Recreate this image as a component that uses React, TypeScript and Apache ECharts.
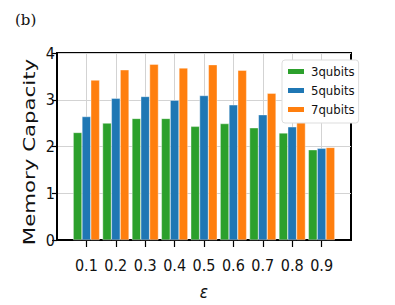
import React, { useEffect, useRef } from "react";
import * as echarts from "echarts";

const epsilons = [0.1, 0.2, 0.3, 0.4, 0.5, 0.6, 0.7, 0.8, 0.9];
const qubits3 = [2.30, 2.50, 2.60, 2.60, 2.43, 2.49, 2.40, 2.29, 1.93];
const qubits5 = [2.64, 3.03, 3.07, 2.99, 3.09, 2.89, 2.68, 2.42, 1.96];
const qubits7 = [3.42, 3.64, 3.76, 3.68, 3.75, 3.63, 3.14, 2.59, 1.98];
const seriesNames = ["3qubits", "5qubits", "7qubits"];
const seriesColors = ["#2ca02c", "#1f77b4", "#ff7f0e"];
const yTicks = [0, 1, 2, 3, 4];

const FONT = "'DejaVu Sans Condensed', 'DejaVu Sans', sans-serif";

export default function App() {
  const ref = useRef<HTMLDivElement>(null);
  useEffect(() => {
    if (!ref.current) return;
    const chart = echarts.init(ref.current, null, { renderer: "svg" });
    const all = [qubits3, qubits5, qubits7];
    chart.setOption({
      animation: false,
      backgroundColor: "#fff",
      grid: {
        left: 57,
        top: 53,
        width: 294,
        height: 196,
        show: true,
        borderColor: "#000",
        borderWidth: 2,
        backgroundColor: "transparent",
      },
      legend: {
        orient: "vertical",
        left: 282,
        top: 60,
        data: seriesNames,
        itemWidth: 18,
        itemHeight: 7,
        itemGap: 6,
        padding: [5, 4, 7, 4],
        backgroundColor: "#fff",
        borderColor: "#dddddd",
        borderWidth: 1,
        borderRadius: 3,
        icon: "rect",
        textStyle: { fontFamily: FONT, fontSize: 13, color: "#111", padding: [0, 0, 0, 1] },
      },
      xAxis: {
        type: "value",
        min: 0,
        max: 1,
        interval: 0.1,
        name: "ε",
        nameLocation: "middle",
        nameGap: 43,
        nameTextStyle: { fontFamily: FONT, fontSize: 17, fontStyle: "italic", color: "#111" },
        axisLine: { show: true, lineStyle: { color: "#000", width: 2 } },
        axisTick: {
          show: true,
          length: 7,
          lineStyle: { color: "#000", width: 1.2 },
          customValues: epsilons,
        },
        axisLabel: {
          fontFamily: FONT,
          fontSize: 16,
          color: "#111",
          margin: 17,
          customValues: epsilons,
          formatter: (v: number) => (v < 0.05 || v > 0.95 ? "" : v.toFixed(1)),
        },
        splitLine: { show: true, lineStyle: { color: "#d3d3d3", width: 1 } },
      },
      yAxis: {
        type: "value",
        min: yTicks[0],
        max: yTicks[yTicks.length - 1],
        interval: 1,
        axisLine: { show: true, lineStyle: { color: "#000", width: 2 } },
        axisTick: { show: true, length: 5, lineStyle: { color: "#000", width: 1.2 } },
        axisLabel: { fontFamily: FONT, fontSize: 16, color: "#111", margin: 2 },
        splitLine: { show: true, lineStyle: { color: "#d3d3d3", width: 1 } },
      },
      graphic: [
        {
          type: "text",
          left: 15,
          top: 12,
          style: { text: "(b)", font: "15px 'DejaVu Serif', serif", fill: "#111" },
        },
        {
          type: "text",
          x: 30,
          y: 152,
          rotation: Math.PI / 2,
          scaleX: 1.42,
          style: {
            text: "Memory Capacity",
            font: "15px 'DejaVu Sans', sans-serif",
            fill: "#111",
            align: "center",
            verticalAlign: "middle",
          },
        },
      ],
      series: all.map((vals, i) => ({
        name: seriesNames[i],
        type: "bar",
        barWidth: 8.8,
        barGap: "0%",
        itemStyle: { color: seriesColors[i], borderColor: "#fff", borderWidth: 0.4 },
        data: epsilons.map((e, j) => [e, vals[j]]),
        z: 3,
      })),
    });
    return () => chart.dispose();
  }, []);
  return (
    <div
      ref={ref}
      style={{ position: "fixed", left: 0, top: 0, width: 395, height: 305 }}
    />
  );
}
